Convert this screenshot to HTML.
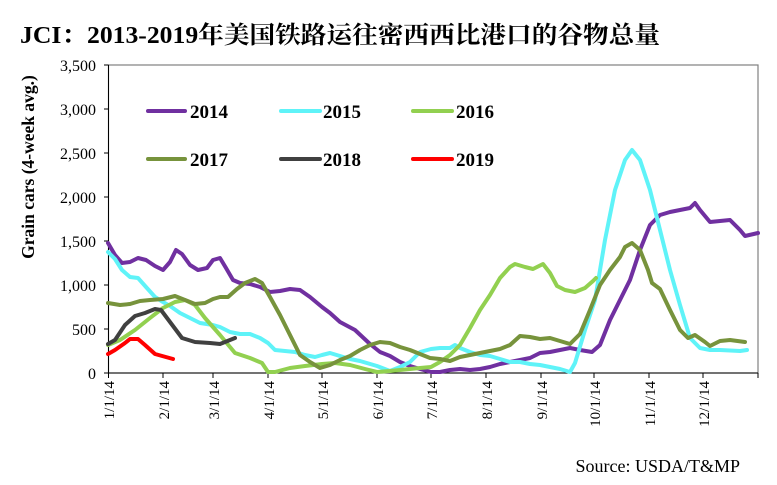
<!DOCTYPE html>
<html><head><meta charset="utf-8"><style>
body{margin:0;background:#fff;}
svg{display:block;font-family:"Liberation Serif","Noto Serif CJK SC",serif;}
</style></head><body>
<svg width="777" height="485" viewBox="0 0 777 485">
<text x="20" y="43" font-size="24" font-weight="bold" fill="#000" textLength="640" lengthAdjust="spacingAndGlyphs">JCI：2013-2019年美国铁路运往密西西比港口的谷物总量</text>
<rect x="108.5" y="65" width="649.5" height="308" fill="none" stroke="#808080" stroke-width="1.2"/>
<line x1="108.5" y1="65" x2="108.5" y2="373" stroke="#000"/>
<line x1="108.5" y1="373" x2="758" y2="373" stroke="#000"/>
<g stroke="#000">
<line x1="104" y1="65" x2="108.5" y2="65"/><line x1="104" y1="109" x2="108.5" y2="109"/><line x1="104" y1="153" x2="108.5" y2="153"/><line x1="104" y1="197" x2="108.5" y2="197"/><line x1="104" y1="241" x2="108.5" y2="241"/><line x1="104" y1="285" x2="108.5" y2="285"/><line x1="104" y1="329" x2="108.5" y2="329"/><line x1="104" y1="373" x2="108.5" y2="373"/>
<line x1="108.5" y1="373" x2="108.5" y2="378"/><line x1="163" y1="373" x2="163" y2="378"/><line x1="213" y1="373" x2="213" y2="378"/><line x1="268" y1="373" x2="268" y2="378"/><line x1="322" y1="373" x2="322" y2="378"/><line x1="377" y1="373" x2="377" y2="378"/><line x1="431" y1="373" x2="431" y2="378"/><line x1="486" y1="373" x2="486" y2="378"/><line x1="541" y1="373" x2="541" y2="378"/><line x1="594" y1="373" x2="594" y2="378"/><line x1="649" y1="373" x2="649" y2="378"/><line x1="703" y1="373" x2="703" y2="378"/><line x1="758" y1="373" x2="758" y2="378"/>
</g>
<g font-size="16" text-anchor="end" fill="#000">
<text x="96" y="71">3,500</text><text x="96" y="115">3,000</text><text x="96" y="159">2,500</text><text x="96" y="203">2,000</text><text x="96" y="247">1,500</text><text x="96" y="291">1,000</text><text x="96" y="335">500</text><text x="96" y="379">0</text>
</g>
<g font-size="15" text-anchor="end" fill="#000">
<text transform="translate(114,381) rotate(-90)">1/1/14</text>
<text transform="translate(169,381) rotate(-90)">2/1/14</text>
<text transform="translate(219,381) rotate(-90)">3/1/14</text>
<text transform="translate(274,381) rotate(-90)">4/1/14</text>
<text transform="translate(328,381) rotate(-90)">5/1/14</text>
<text transform="translate(383,381) rotate(-90)">6/1/14</text>
<text transform="translate(437,381) rotate(-90)">7/1/14</text>
<text transform="translate(492,381) rotate(-90)">8/1/14</text>
<text transform="translate(547,381) rotate(-90)">9/1/14</text>
<text transform="translate(600,381) rotate(-90)">10/1/14</text>
<text transform="translate(655,381) rotate(-90)">11/1/14</text>
<text transform="translate(709,381) rotate(-90)">12/1/14</text>
</g>
<text transform="translate(34,167) rotate(-90)" font-size="17.5" font-weight="bold" text-anchor="middle">Grain cars (4-week avg.)</text>
<text x="740" y="472" font-size="18" text-anchor="end">Source: USDA/T&amp;MP</text>
<g fill="none" stroke-width="4" stroke-linejoin="round" stroke-linecap="round">
<polyline stroke="#7030a0" points="108,243 115,255 122,263 130,262 138,258 146,260 155,266 163,270 170,262 176,250 182,254 190,265 198,270 207,268 213,260 220,258 226,268 233,280 240,283 250,284 260,287 270,292 280,291 290,289 300,290 310,297 322,307 330,313 340,322 355,330 370,344 380,352 390,356 400,362 410,366 420,369 431,372 440,372 450,370 460,369 470,370 480,369 490,367 500,364 510,362 520,360 530,358 540,353 550,352 560,350 570,348 580,350 592,352 600,345 610,320 620,300 630,280 640,250 650,225 660,215 670,212 680,210 690,208 695,203 700,210 710,222 720,221 730,220 740,230 745,236 758,233"/>
<polyline stroke="#5ff3f8" points="108,252 115,259 122,270 130,277 138,278 146,287 155,297 163,302 170,306 180,313 190,318 200,323 213,325 220,327 230,332 240,334 250,334 260,338 268,343 275,350 285,351 295,352 305,355 315,357 322,355 330,353 340,356 350,359 360,361 377,366 390,371 400,367 410,362 420,352 431,349 440,348 450,348 455,345 460,348 470,352 480,355 490,356 500,359 510,362 520,362 530,364 540,365 560,369 570,372 575,363 585,330 595,300 605,240 615,190 625,160 632,150 640,160 650,190 660,230 670,270 680,305 690,338 700,348 710,350 720,350 740,351 747,350"/>
<polyline stroke="#92d050" points="108,345 120,340 135,330 150,318 163,308 175,302 185,300 195,305 205,318 220,335 235,353 250,358 262,363 268,372 275,372 290,368 305,366 322,364 335,363 350,365 365,369 377,372 390,371 400,370 410,369 420,368 431,367 440,362 450,355 460,345 470,328 480,310 490,295 500,278 510,267 515,264 525,267 533,269 543,264 550,273 557,286 565,290 575,292 585,288 593,281 596,278"/>
<polyline stroke="#77933c" points="108,303 120,305 130,304 140,301 150,300 163,299 175,296 185,300 195,304 205,303 213,299 220,297 228,297 237,289 245,283 255,279 262,283 270,297 280,315 290,335 300,355 310,362 320,368 330,365 340,360 350,356 360,350 370,345 380,342 390,343 400,347 410,350 420,354 430,358 440,359 450,361 460,357 470,355 480,353 490,351 500,349 510,345 520,336 530,337 540,339 550,338 560,341 570,344 580,334 590,310 600,285 610,270 620,257 625,247 632,243 640,250 648,270 652,283 660,289 670,310 680,330 688,338 695,335 705,342 710,346 720,341 730,340 745,342"/>
<polyline stroke="#404040" points="108,344 115,340 125,325 135,316 145,313 155,309 161,310 170,322 182,338 195,342 210,343 220,344 230,340 235,338"/>
<polyline stroke="#ff0000" points="108,354 115,350 125,343 130,339 138,339 145,345 155,354 173,359"/>
<line stroke="#7030a0" x1="148" y1="111" x2="185" y2="111"/>
<line stroke="#5ff3f8" x1="281" y1="111" x2="320" y2="111"/>
<line stroke="#92d050" x1="413" y1="111" x2="452" y2="111"/>
<line stroke="#77933c" x1="148" y1="159" x2="185" y2="159"/>
<line stroke="#404040" x1="281" y1="159" x2="320" y2="159"/>
<line stroke="#ff0000" x1="413" y1="159" x2="452" y2="159"/>
</g>
<g font-size="19" font-weight="bold" fill="#000">
<text x="190" y="118">2014</text><text x="323" y="118">2015</text><text x="456" y="118">2016</text>
<text x="190" y="166">2017</text><text x="323" y="166">2018</text><text x="456" y="166">2019</text>
</g>
</svg>
</body></html>
